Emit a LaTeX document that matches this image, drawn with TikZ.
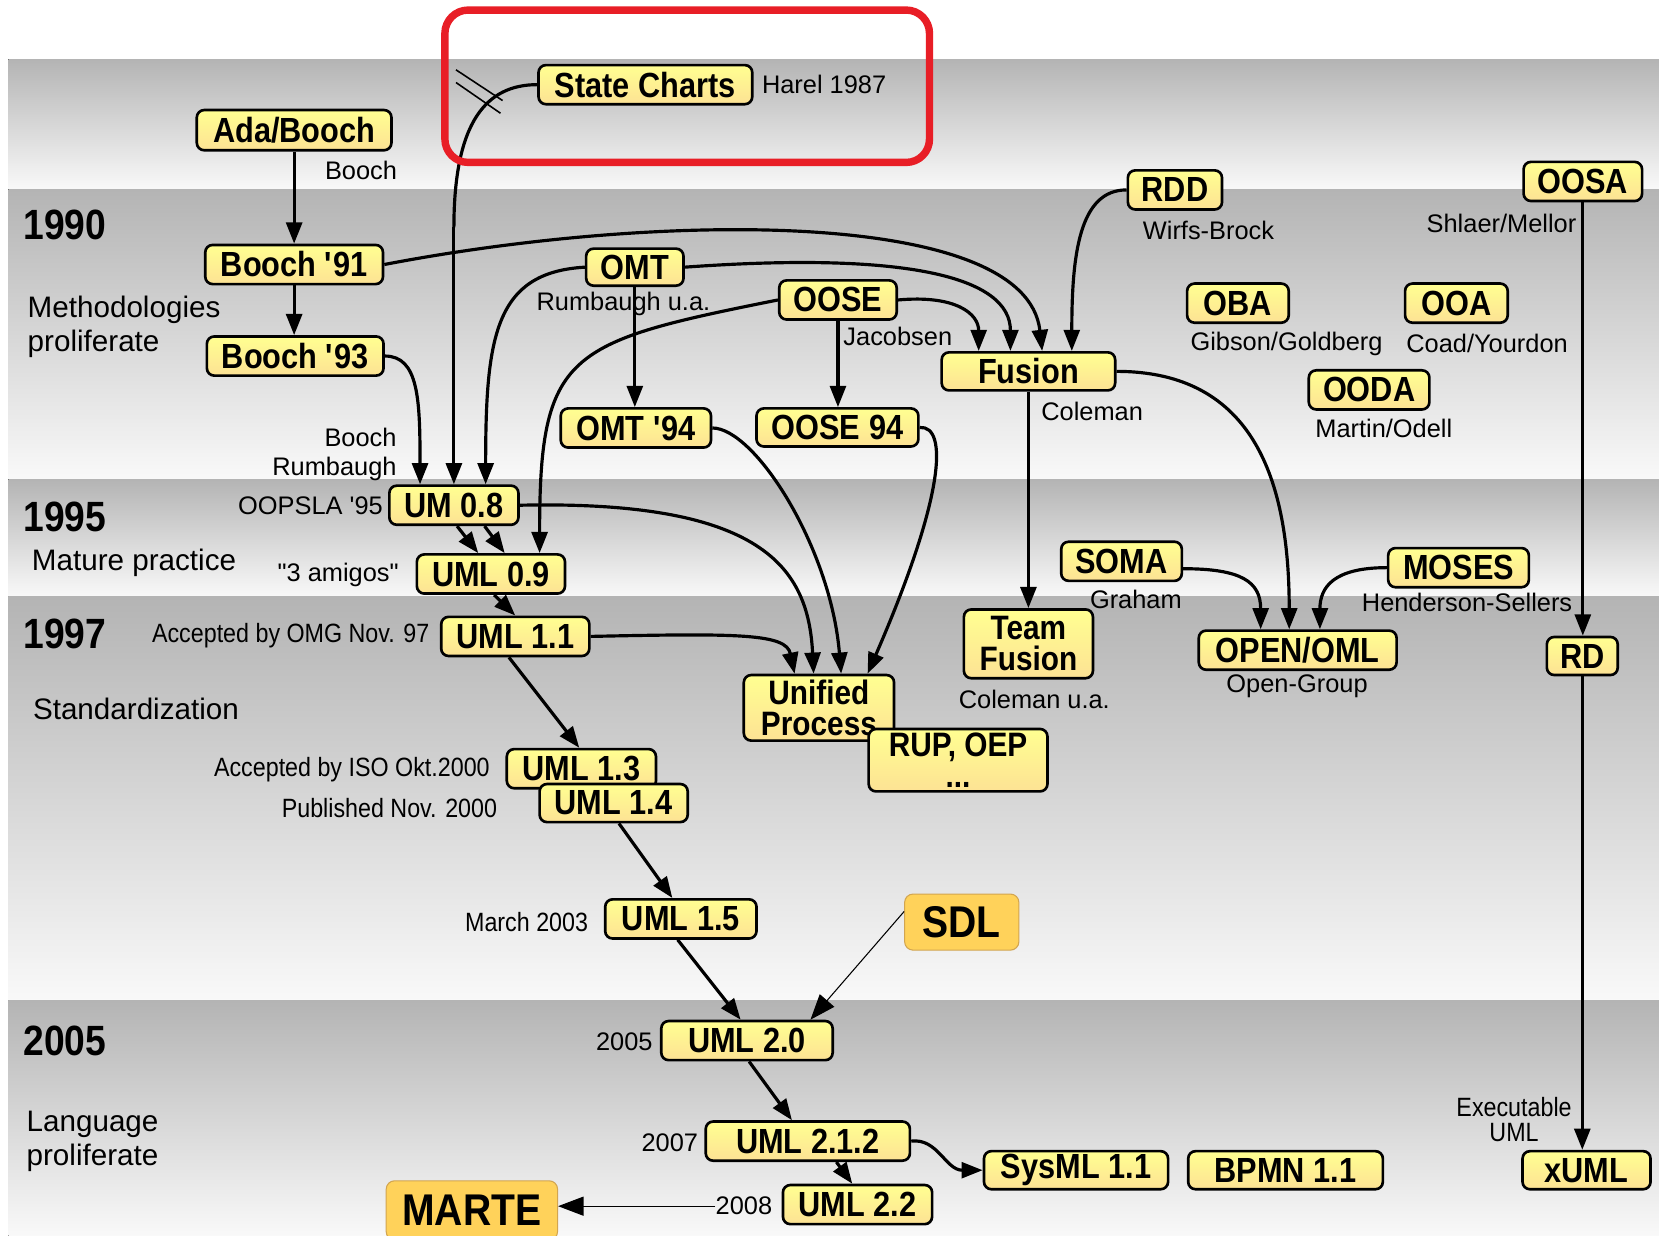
\documentclass[tikz,border=0pt]{standalone}
\usepackage{fontspec}
\setmainfont{Liberation Sans}
\newfontfamily\boxfont[FakeStretch=0.88]{Liberation Sans Bold}
\newfontfamily\narrowfont[FakeStretch=0.88]{Liberation Sans}
\usetikzlibrary{arrows.meta}
\definecolor{boxtop}{RGB}{255,255,145}
\definecolor{boxbot}{RGB}{253,226,148}
\definecolor{bandtop}{RGB}{180,180,180}
\definecolor{bandbot}{RGB}{249,249,249}
\definecolor{langfill}{RGB}{255,210,90}
\definecolor{langedge}{RGB}{210,165,80}
\definecolor{markred}{RGB}{232,30,38}
\newcommand{\sq}{\textquotesingle}

\begin{document}
\begin{tikzpicture}[x=1pt,y=-1pt,
  band/.style={top color=bandtop,bottom color=bandbot,draw=none},
  ybox/.style={draw=black,line width=2.5pt,rounded corners=7pt,
    top color=boxtop,bottom color=boxbot,inner sep=0pt,align=center,
    font=\boxfont\fontsize{33}{26}\selectfont},
  twoline/.style={font=\boxfont\fontsize{32}{29}\selectfont},
  obox/.style={draw=langedge,line width=1pt,rounded corners=8pt,fill=langfill,
    inner sep=0pt,font=\boxfont\fontsize{42}{44}\selectfont},
  wh/.style 2 args={minimum width=#1pt,minimum height=#2pt},
  lbl/.style={inner sep=0pt,font=\fontsize{24}{26}\selectfont},
  nlbl/.style={inner sep=0pt,font=\narrowfont\fontsize{25}{27}\selectfont},
  year/.style={inner sep=0pt,anchor=west,font=\boxfont\fontsize{40}{42}\selectfont},
  phase/.style={inner sep=0pt,anchor=west,align=left,font=\fontsize{28}{32}\selectfont},
  conn/.style={line width=3pt,-{Triangle[length=20pt,width=15pt]}},
  thinconn/.style={line width=1pt,-{Triangle[length=24pt,width=18pt]}}]

\useasboundingbox (0,0) rectangle (1568,1168);
\fill[white] (0,0) rectangle (1568,1168);

% time bands
\fill[band] (8,56) rectangle (1568,179);
\fill[band] (8,179) rectangle (1568,453);
\fill[band] (8,453) rectangle (1568,564);
\fill[band] (8,564) rectangle (1568,946);
\fill[band] (8,946) rectangle (1568,1168);

% band titles
\node[year] (y1990) at (22,213) {1990};
\node[phase] (p1990) at (26,309) {Methodologies\\proliferate};
\node[year] (y1995) at (22,489) {1995};
\node[phase] (p1995) at (30,532) {Mature practice};
\node[year] (y1997) at (22,599) {1997};
\node[phase] (p1997) at (31,670) {Standardization};
\node[year] (y2005) at (22,984) {2005};
\node[phase] (p2005) at (25,1079) {Language\\proliferate};

% annotations
\node[lbl,anchor=west] (lharel) at (720,80) {Harel 1987};
\node[lbl,anchor=west] (lbooch) at (307,161) {Booch};
\node[lbl,anchor=west] (lrumb) at (507,287) {Rumbaugh u.a.};
\node[lbl,anchor=west] (ljacob) at (797,318) {Jacobsen};
\node[lbl,anchor=west] (lcole) at (984,389) {Coleman};
\node[lbl,anchor=west] (lwirfs) at (1080,218) {Wirfs-Brock};
\node[lbl,anchor=east] (lshlaer) at (1490,211) {Shlaer/Mellor};
\node[lbl,anchor=west] (lgib) at (1125,325) {Gibson/Goldberg};
\node[lbl,anchor=west] (lcoad) at (1329,325) {Coad/Yourdon};
\node[lbl,anchor=west] (lmart) at (1243,405) {Martin/Odell};
\node[lbl,anchor=east] (lbooch2) at (375,413) {Booch};
\node[lbl,anchor=east] (lrumb2) at (375,443) {Rumbaugh};
\node[lbl,anchor=east] (loopsla) at (362,478) {OOPSLA \sq95};
\node[lbl,anchor=east] (lamigos) at (377,543) {\textquotedbl 3 amigos\textquotedbl};
\node[nlbl,anchor=east] (lomg) at (406,601) {Accepted by OMG Nov. 97};
\node[nlbl,anchor=east] (liso) at (463,727) {Accepted by ISO Okt.2000};
\node[nlbl,anchor=east] (lpub) at (470,764) {Published Nov. 2000};
\node[nlbl,anchor=east] (lmarch) at (556,871) {March 2003};
\node[lbl,anchor=east] (l2005) at (617,985) {2005};
\node[lbl,anchor=east] (l2007) at (660,1080) {2007};
\node[lbl,anchor=east] (l2008) at (730,1140) {2008};
\node[lbl,anchor=west] (lcoleua) at (906,661) {Coleman u.a.};
\node[lbl,anchor=west] (lgraham) at (1030,567) {Graham};
\node[lbl,anchor=west] (lopeng) at (1159,649) {Open-Group};
\node[lbl,anchor=west] (lhend) at (1287,569) {Henderson-Sellers};
\node[nlbl,align=center,font=\narrowfont\fontsize{25}{24}\selectfont] (lexec) at (1431,1058) {Executable\\UML};

% methods and languages
\node[ybox,wh={202}{37}] (sc) at (610,80) {State Charts};
\node[ybox,wh={184}{38}] (ada) at (278,123) {Ada/Booch};
\node[ybox,wh={168}{37}] (b91) at (278,250) {Booch \sq91};
\node[ybox,wh={167}{37}] (b93) at (279,336.5) {Booch \sq93};
\node[ybox,wh={92}{35}] (omt) at (600,252.5) {OMT};
\node[ybox,wh={111}{37}] (oose) at (792,283.5) {OOSE};
\node[ybox,wh={164}{36}] (fusion) at (972,351) {Fusion};
\node[ybox,wh={89}{37}] (rdd) at (1110.5,179.5) {RDD};
\node[ybox,wh={112}{37}] (oosa) at (1496,171.5) {OOSA};
\node[ybox,wh={96}{37}] (oba) at (1170,286.5) {OBA};
\node[ybox,wh={97}{37}] (ooa) at (1376.5,286.5) {OOA};
\node[ybox,wh={114}{37}] (ooda) at (1294,368.5) {OODA};
\node[ybox,wh={142}{37}] (omt94) at (601,404.5) {OMT \sq94};
\node[ybox,wh={153}{36}] (oose94) at (791.5,404) {OOSE 94};
\node[ybox,wh={122}{37}] (um08) at (429,477.5) {UM 0.8};
\node[ybox,wh={140}{37}] (uml09) at (464,542.5) {UML 0.9};
\node[ybox,wh={140}{37}] (uml11) at (487,601.5) {UML 1.1};
\node[ybox,wh={141}{37}] (uml13) at (549.5,726.5) {UML 1.3};
\node[ybox,wh={140}{36}] (uml14) at (580,759) {UML 1.4};
\node[ybox,wh={143}{37}] (uml15) at (643.5,868.5) {UML 1.5};
\node[obox,wh={108}{53}] (sdl) at (909,871.5) {SDL};
\node[ybox,wh={162}{37}] (uml20) at (706,983.5) {UML 2.0};
\node[ybox,wh={193}{37}] (uml212) at (763.5,1078.5) {UML 2.1.2};
\node[ybox,wh={141}{37}] (uml22) at (810.5,1138.5) {UML 2.2};
\node[obox,wh={162}{56}] (marte) at (446,1144) {MARTE};
\node[ybox,wh={174}{36}] (sysml) at (1017,1106) {SysML 1.1};
\node[ybox,wh={184}{36}] (bpmn) at (1215,1106) {BPMN 1.1};
\node[ybox,wh={121}{36}] (xuml) at (1499.5,1106) {xUML};
\node[ybox,wh={67}{36}] (rd) at (1495.5,620) {RD};
\node[ybox,twoline,wh={142}{62}] (up) at (774,669) {Unified\\Process};
\node[ybox,twoline,wh={169}{59}] (rup) at (905.5,718.5) {RUP, OEP\\...};
\node[ybox,twoline,wh={122}{65}] (tf) at (972,608.5) {Team\\Fusion};
\node[ybox,wh={114}{37}] (soma) at (1060,530.5) {SOMA};
\node[ybox,wh={187}{37}] (open) at (1226.5,614.5) {OPEN/OML};
\node[ybox,wh={133}{37}] (moses) at (1378.5,536.5) {MOSES};

% influences
\coordinate (scbend) at (429,215);
\draw[line width=3pt] (sc.west) .. controls +(-48,0) and +(0,-100) .. (scbend);
\draw[conn] (scbend) -- (um08.north);
\draw[line width=1.5pt] (431,66) -- (475,95);
\draw[line width=1.5pt] (431,78) -- (473,107);

\draw[conn] (ada.south) -- (b91.north);
\draw[conn] (b91.south) -- (b91.south |- b93.north);
\draw[conn] (b93.east) .. controls +(32,0) and +(0,-80) .. ([xshift=-32pt]um08.north);
\draw[conn] (omt.west) .. controls +(-85,5) and +(0,-140) .. ([xshift=30pt]um08.north);
\draw[conn] (oose.west) .. controls +(-200,40) and +(0,-190) .. ([xshift=46pt]uml09.north);
\draw[conn] (omt.south) -- (omt.south |- omt94.north);
\draw[conn] (oose.south) -- (oose.south |- oose94.north);

\draw[conn] (oose.east) .. controls +(55,-5) and +(0,-35) .. ([xshift=-47pt]fusion.north);
\draw[conn] (omt.east) .. controls +(210,-15) and +(0,-70) .. ([xshift=-17pt]fusion.north);
\draw[conn] (b91.east) .. controls +(260,-50) and +(-15,-135) .. ([xshift=13pt]fusion.north);
\draw[conn] (rdd.west) .. controls +(-45,0) and +(0,-90) .. ([xshift=41pt]fusion.north);

\draw[conn] ([xshift=3pt]um08.south) -- ([xshift=-12pt]uml09.north);
\draw[conn] ([xshift=29pt]um08.south) -- ([xshift=13pt]uml09.north);
\draw[conn] ([xshift=3pt]uml09.south) -- (uml11.north);
\draw[conn] ([xshift=-6pt]uml11.south) -- ([xshift=-2pt]uml13.north);
\draw[conn] ([xshift=5pt]uml14.south) -- ([xshift=-8pt]uml15.north);
\draw[conn] ([xshift=-3pt]uml15.south) -- ([xshift=-6pt]uml20.north);
\draw[thinconn] ([yshift=10pt]sdl.west) -- ([xshift=60pt]uml20.north);
\draw[conn] ([xshift=2pt]uml20.south) -- ([xshift=-15pt]uml212.north);
\draw[conn] ([xshift=27pt]uml212.south) -- ([xshift=-5pt]uml22.north);
\draw[conn] (uml212.east) .. controls +(25,-3) and +(-35,0) .. (sysml.west);
\draw[thinconn] (l2008.west) -- (l2008.west -| marte.east);

\draw[conn] (uml11.east) .. controls +(140,-3) and +(-8,-38) .. ([xshift=-23pt]up.north);
\draw[conn] (um08.east) .. controls +(230,-5) and +(-5,-100) .. ([xshift=-5pt]up.north);
\draw[conn] (omt94.east) .. controls +(40,0) and +(-10,-120) .. ([xshift=21pt]up.north);
\draw[conn] (oose94.east) .. controls +(27,-2) and +(73,-168) .. ([xshift=46pt]up.north);

\draw[conn] (fusion.south) -- (tf.north);
\draw[conn] (fusion.east) .. controls +(130,0) and +(0,-140) .. ([xshift=-8pt]open.north);
\draw[conn] ([yshift=-7pt]soma.east) .. controls +(55,0) and +(0,-45) .. ([xshift=-35pt]open.north);
\draw[conn] (moses.west) .. controls +(-50,0) and +(0,-40) .. ([xshift=21pt]open.north);
\draw[conn] (oosa.south) -- (oosa.south |- rd.north);
\draw[conn] (rd.south) -- (rd.south |- xuml.north);

% highlight frame
\draw[markred,line width=7pt,rounded corners=22pt] (420.5,9.5) rectangle (878.5,153.5);
\end{tikzpicture}
\end{document}
